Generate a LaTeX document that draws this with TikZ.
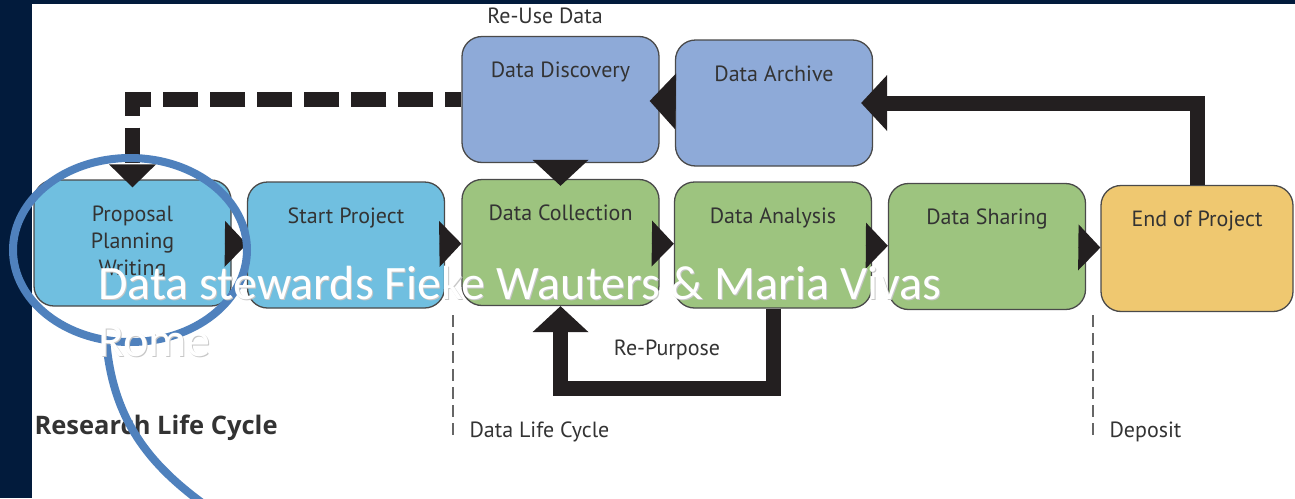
\documentclass[tikz,border=0pt]{standalone}
\usepackage{fontspec}
\newfontfamily\diagfont{PT Sans}
\newfontfamily\titlefont{Open Sans}
\newfontfamily\slidefont{Carlito}
\usetikzlibrary{arrows.meta}
\definecolor{slidenavy}{HTML}{021B3C}
\definecolor{planblue}{HTML}{70BFE0}
\definecolor{reuseblue}{HTML}{8EAAD8}
\definecolor{datagreen}{HTML}{9DC47F}
\definecolor{endyellow}{HTML}{EFC870}
\definecolor{stageedge}{HTML}{4A4A4A}
\definecolor{stagetext}{HTML}{333333}
\definecolor{flowblack}{HTML}{231F20}
\definecolor{calloutblue}{HTML}{4F81BD}
\tikzset{
  labelfont/.style={font=\diagfont\fontsize{22}{27}\selectfont,text=stagetext},
  stage/.style={draw=stageedge,line width=1.3pt,rounded corners=20pt,
                minimum width=197pt,minimum height=126pt,inner sep=0pt},
  stagelbl/.style={labelfont,anchor=north,yshift=-26pt,inner sep=0pt,align=center},
  stagetip/.style={-{Triangle[length=22pt,width=46pt,line width=0pt]},draw=flowblack,
                   line width=0.5pt},
  bigflow/.style={-{Triangle[length=26pt,width=56pt,line width=0pt]},draw=flowblack,
                  line width=15pt},
  dashflow/.style={-{Triangle[length=23pt,width=47pt,line width=0pt]},draw=flowblack,
                   line width=15pt,dash pattern=on 35pt off 12pt,dash phase=19pt},
  divider/.style={draw=black!60,line width=1.4pt,dash pattern=on 12pt off 6pt},
  callout/.style={draw=calloutblue,line width=8pt},
  slidetxt/.style={font=\slidefont\fontsize{48}{57}\selectfont,text=white,inner sep=0pt},
  slideshade/.style={slidetxt,text=black!22},
}

\begin{document}
\begin{tikzpicture}[x=1pt,y=-1pt]
  \useasboundingbox (0,0) rectangle (1295,498);
  \fill[slidenavy] (0,0) rectangle (1295,498);
  \fill[white] (32,4) rectangle (1295,498);

  % research stages
  \node[stage,fill=planblue,label={[stagelbl]north:{Proposal\\Planning\\Writing}}] (prop) at (132.5,243) {};
  \node[stage,fill=planblue,label={[stagelbl]north:Start Project}] (start) at (346,245) {};
  \node[stage,fill=datagreen,label={[stagelbl]north:Data Collection}] (coll) at (560.5,242.5) {};
  \node[stage,fill=datagreen,label={[stagelbl]north:Data Analysis}] (anal) at (773,245) {};
  \node[stage,fill=datagreen,label={[stagelbl]north:Data Sharing}] (share) at (987,246.5) {};
  \node[stage,fill=endyellow,minimum width=192pt,label={[stagelbl]north:End of Project}] (endp) at (1197,248.5) {};
  \node[stage,fill=reuseblue,label={[stagelbl]north:Data Discovery}] (disc) at (560.5,99.5) {};
  \node[stage,fill=reuseblue,label={[stagelbl]north:Data Archive}] (arch) at (774,103) {};

  % flow along the row
  \draw[stagetip] (prop) -- (start);
  \draw[stagetip] (start) -- (coll);
  \draw[stagetip] (coll) -- (anal);
  \draw[stagetip] (anal) -- (share);
  \draw[stagetip] (share) -- (endp);

  % loops
  \draw[bigflow,shorten >=-12pt] (endp.north) |- (arch);
  \draw[bigflow,shorten >=-10pt] (arch) -- (disc);
  \draw[bigflow,shorten >=-7pt] (disc) -- (coll);
  \draw[bigflow] (anal.south) -- ++(0,80) -| (coll.south);
  \draw[dashflow,shorten >=-8pt] (disc.west) -| (prop.north);

  \node[labelfont] (reuse) at (545,16) {Re-Use Data};
  \node[labelfont] (repurp) at (667,350) {Re-Purpose};

  \draw[divider] (453,315) -- (453,440);
  \draw[divider] (1093,315) -- (1093,440);
  \node[labelfont,font=\titlefont\fontsize{25.5}{30}\selectfont\bfseries,anchor=west] (rlc) at (31,428) {Research Life Cycle};
  \node[labelfont,anchor=west] (dlc) at (466,432) {Data Life Cycle};
  \node[labelfont,anchor=west] (dep) at (1106,432) {Deposit};

  % slide overlay
  \draw[callout] (130,250) ellipse [x radius=117pt,y radius=92pt];
  \draw[callout] (106,338) .. controls (112,420) and (150,465) .. (205,505);
  \node[slideshade,anchor=base west] (whoshade) at (99,300) {Data stewards Fieke Wauters \& Maria Vivas};
  \node[slideshade,anchor=base west] (romeshade) at (99,357) {Rome};
  \node[slidetxt,anchor=base west] (who) at (98,299) {Data stewards Fieke Wauters \& Maria Vivas};
  \node[slidetxt,anchor=base west] (rome) at (98,356) {Rome};
\end{tikzpicture}
\end{document}
